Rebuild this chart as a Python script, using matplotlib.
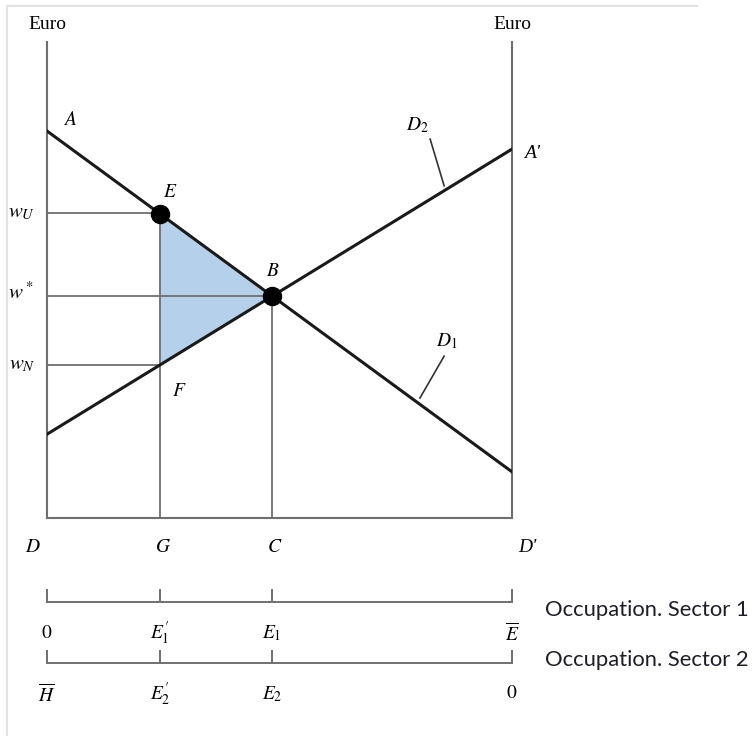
import numpy as np
import matplotlib.pyplot as plt
from matplotlib.lines import Line2D

plt.rcParams['mathtext.fontset'] = 'stix'
plt.rcParams['font.family'] = ['Liberation Serif', 'DejaVu Serif']

# model (employment 0..100 from D to D', wage 0..100)
e_total = 100.0
e_g = 24.3          # G / E1'
e_c = 48.4          # C / E1
d1_ends = [81.3, 9.7]    # D1 at x=0 (A) and x=100
d2_ends = [17.6, 77.5]   # D2 at x=0 and x=100 (A')
w_u = 64.1
w_star = 46.6
w_n = 32.2

scale_pos = [0, e_g, e_c, e_total]
sector1_labels = ['$0$', "$E_1^{\\prime}$", '$E_1$', r'$\overline{E}$']
sector2_labels = [r'$\overline{H}$', "$E_2^{\\prime}$", '$E_2$', '$0$']
sector_names = ['Occupation. Sector 1', 'Occupation. Sector 2']


def d1(x):
    return d1_ends[0] + (d1_ends[1] - d1_ends[0]) * np.asarray(x) / e_total


def d2(x):
    return d2_ends[0] + (d2_ends[1] - d2_ends[0]) * np.asarray(x) / e_total


W, H = 755, 736
fig = plt.figure(figsize=(W / 100, H / 100), dpi=100)

# light frame of the scanned picture
fig.add_artist(Line2D([7 / W, 697 / W], [1 - 6 / H, 1 - 6 / H], color='#e3e3e3', lw=1.5))
fig.add_artist(Line2D([7 / W, 7 / W], [0, 1 - 6 / H], color='#e3e3e3', lw=1.5))

ax = fig.add_axes([47 / W, (H - 518) / H, 465 / W, 476 / H])
ax.set_xlim(0, 100)
ax.set_ylim(0, 100)
ax.set_xticks([])
ax.set_yticks([])
ax.spines['top'].set_visible(False)
for s in ['left', 'bottom', 'right']:
    ax.spines[s].set_color('#6e6e6e')
    ax.spines[s].set_linewidth(1.5)

grey = '#707070'
# shaded triangle E-B-F
ax.fill([e_g, e_c, e_g], [d1(e_g), d1(e_c), d2(e_g)], color='#b5d0ea', zorder=1)

# guide lines
ax.plot([0, e_g], [w_u, w_u], color=grey, lw=1.3, zorder=2)
ax.plot([0, e_c], [w_star, w_star], color=grey, lw=1.3, zorder=2)
ax.plot([0, e_g], [w_n, w_n], color=grey, lw=1.3, zorder=2)
ax.plot([e_g, e_g], [0, w_u], color=grey, lw=1.3, zorder=2)
ax.plot([e_c, e_c], [0, w_star], color=grey, lw=1.3, zorder=2)

# demand curves
xs = np.array([0, e_total])
ax.plot(xs, d1(xs), color='#1a1a1a', lw=2.2, zorder=3)
ax.plot(xs, d2(xs), color='#1a1a1a', lw=2.2, zorder=3)
ax.plot([e_g, e_c], [d1(e_g), d1(e_c)], 'o', color='black', ms=13, zorder=4)

# leader lines for curve labels
ax.plot([82.4, 85.4], [79.6, 69.8], color='#333333', lw=1.2, clip_on=False)
ax.plot([85.4, 80.2], [34.0, 25.2], color='#333333', lw=1.2, clip_on=False)

fs = 14
txt = dict(fontsize=fs, ha='center', va='center', clip_on=False)
ax.text(0, 103.6, 'Euro', **txt)
ax.text(100, 103.6, 'Euro', **txt)
ax.text(4.9, 83.6, '$A$', **txt)
ax.text(26.5, 68.3, '$E$', **txt)
ax.text(48.6, 51.7, '$B$', **txt)
ax.text(28.4, 26.5, '$F$', **txt)
ax.text(79.6, 82.6, '$D_2$', **txt)
ax.text(104.4, 76.5, "A'", fontstyle='italic', **txt)
ax.text(86.0, 37.2, '$D_1$', **txt)
wtxt = dict(txt, fontsize=15)
ax.text(-5.4, w_u, '$w_U$', **wtxt)
ax.text(-5.6, w_star + 0.6, '$w^*$', **wtxt)
ax.text(-5.4, w_n, '$w_N$', **wtxt)
for x, lab in zip([-3.0, e_g + 0.6, e_c + 0.6], ['$D$', '$G$', '$C$']):
    ax.text(x, -6.3, lab, **txt)
ax.text(103.4, -6.3, "D'", fontstyle='italic', **txt)

# employment scales below
ax2 = fig.add_axes([47 / W, 0, 465 / W, (H - 560) / H])
ax2.set_xlim(0, 100)
ax2.set_ylim(H, 560)
ax2.axis('off')
for base, labels, name_y, name in zip([602, 663], [sector1_labels, sector2_labels],
                                      [610, 660], sector_names):
    ax2.plot([0, e_total], [base, base], color=grey, lw=1.4, clip_on=False)
    for x in scale_pos:
        ax2.plot([x, x], [base - 12, base], color=grey, lw=1.4, clip_on=False)
    for x, lab in zip(scale_pos, labels):
        ax2.text(x, base + 31, lab, **txt)
    ax2.text(107.0, name_y, name, fontsize=15.8, color='#1e1e2a',
             family=['Lato', 'DejaVu Sans'], ha='left', va='center', clip_on=False)

fig.savefig('out.png', dpi=100)
